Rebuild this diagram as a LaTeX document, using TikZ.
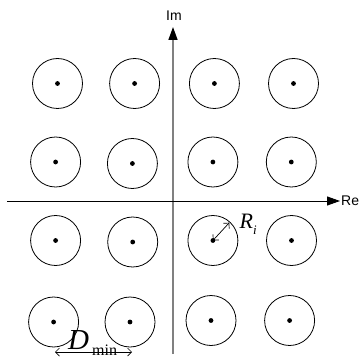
\documentclass[tikz,border=0pt]{standalone}
\usepackage{fontspec}
\setmainfont{Liberation Serif}
\setsansfont{Liberation Sans}
\usetikzlibrary{arrows.meta}
\begin{document}
\begin{tikzpicture}[x=1pt,y=-1pt,
  sym/.style={circle,draw,line width=0.8pt,minimum size=50pt,inner sep=0pt},
  dotm/.style={circle,fill,minimum size=4.8pt,inner sep=0pt},
  axis/.style={line width=0.9pt,-{Triangle[length=13pt,width=9pt,color=black]}},
  barb/.style={line width=0.7pt,{Straight Barb[length=4pt,width=8pt]}-{Straight Barb[length=4pt,width=8pt]}},
  axlabel/.style={font=\sffamily\fontsize{14}{14}\selectfont,inner sep=0pt}]
\useasboundingbox (0,0) rectangle (361,363);
% constellation points
\foreach \n/\x/\y in {11/57.5/83.5,12/134.6/83.5,13/214.4/83.5,14/293.5/83.5,
  21/55.6/162,22/132.4/163.5,23/212.9/162,24/291.3/162,
  31/55.6/240.5,32/132.7/242,33/212.9/240.5,34/291.5/240.5,
  41/53.6/322,42/130/322,43/211/320.5,44/289.6/320.5}{
  \node[sym] (c\n) at (\x,\y) {};
  \node[dotm] (d\n) at (c\n.center) {};
}
% axes
\coordinate (imb) at (173,354);
\coordinate (imt) at (173,27);
\draw[axis,gray,line width=1.5pt] (imb) -- (imt);
\node[axlabel] (imlab) at (174,16) {Im};
\coordinate (rel) at (7,201);
\coordinate (rer) at (340,201);
\draw[axis] (rel) -- (rer);
\node[axlabel,anchor=west] (relab) at (341,201) {Re};
% radius
\coordinate (rend) at (229.3,222.7);
\draw[barb] (d33.center) -- (rend);
\node[anchor=base west,inner sep=0pt] (rlab) at (239.5,228)
  {\fontsize{22}{22}\selectfont\itshape R\raisebox{-6pt}{\fontsize{13}{13}\selectfont i}};
% minimum distance
\coordinate (dl) at (55,352);
\coordinate (dr) at (132,352);
\draw[barb] (dl) -- (dr);
\node[anchor=base west,inner sep=0pt] (dlab) at (68,349)
  {\fontsize{29}{29}\selectfont\itshape D\hspace{3pt}\raisebox{-6pt}{\upshape\fontsize{16}{16}\selectfont min}};
\end{tikzpicture}
\end{document}
